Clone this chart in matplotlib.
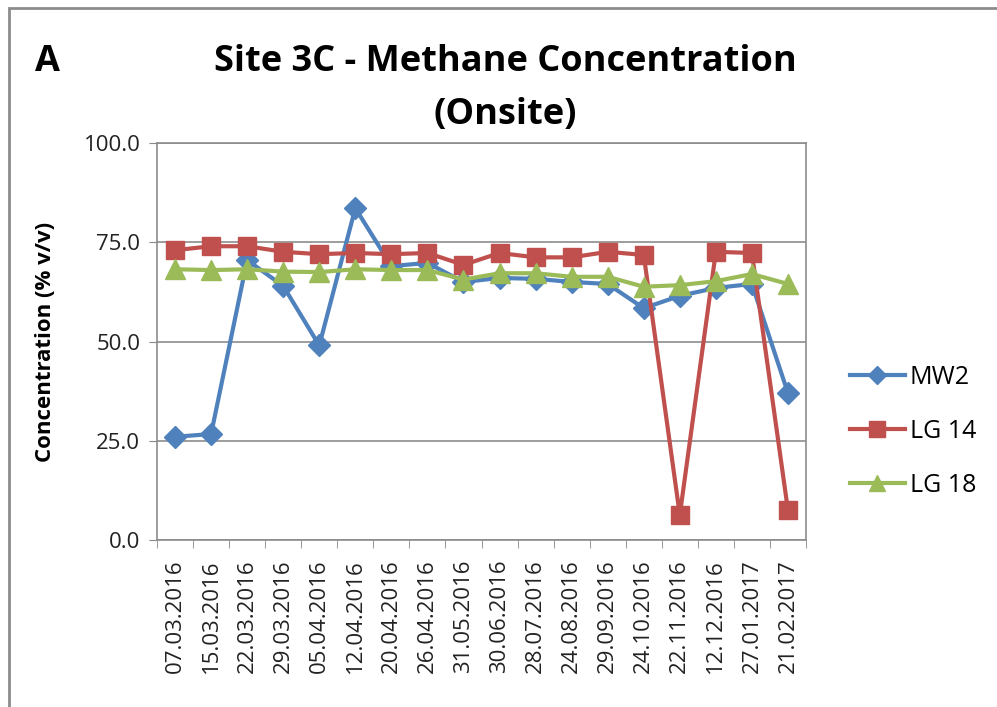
import matplotlib.pyplot as plt
import numpy as np
from matplotlib.patches import Rectangle

dates = ["07.03.2016", "15.03.2016", "22.03.2016", "29.03.2016", "05.04.2016",
         "12.04.2016", "20.04.2016", "26.04.2016", "31.05.2016", "30.06.2016",
         "28.07.2016", "24.08.2016", "29.09.2016", "24.10.2016", "22.11.2016",
         "12.12.2016", "27.01.2017", "21.02.2017"]
mw2 = [26.0, 26.7, 70.5, 64.0, 49.0, 83.6, 69.0, 69.8, 65.0, 66.0,
       65.8, 65.0, 64.5, 58.4, 61.5, 63.5, 64.5, 37.0]
lg14 = [73.0, 74.0, 74.0, 72.6, 72.0, 72.3, 72.0, 72.3, 69.3, 72.3,
        71.2, 71.2, 72.6, 71.8, 6.3, 72.6, 72.3, 7.5]
lg18 = [68.2, 68.0, 68.2, 67.6, 67.5, 68.2, 68.0, 68.0, 65.6, 67.2,
        67.2, 66.3, 66.3, 63.8, 64.2, 65.2, 67.0, 64.5]

plt.rcParams['font.family'] = ['Open Sans', 'DejaVu Sans']

fig = plt.figure(figsize=(9.97, 7.07), dpi=100)
ax = fig.add_axes([0.1575, 0.2362, 0.6509, 0.5615])

x = np.arange(len(dates))
ax.plot(x, mw2, color="#4F81BD", lw=3, marker="D", ms=11, label="MW2")
ax.plot(x, lg14, color="#C0504D", lw=3, marker="s", ms=13, label="LG 14")
ax.plot(x, lg18, color="#9BBB59", lw=3, marker="^", ms=14, label="LG 18")

ax.set_xlim(-0.5, len(dates) - 0.5)
ax.set_ylim(0, 100)
ax.set_yticks([0, 25, 50, 75, 100])
ax.set_yticklabels(["0.0", "25.0", "50.0", "75.0", "100.0"], fontsize=16,
                   color="#222222")
ax.set_xticks(x)
ax.set_xticklabels(dates, rotation=90, fontsize=16, color="#222222")
ax.set_xticks(np.arange(-0.5, len(dates)), minor=True)
ax.tick_params(axis="x", which="major", length=0, pad=14)
ax.tick_params(axis="x", which="minor", length=6, color="#888888")
ax.tick_params(axis="y", length=6, color="#888888", pad=6)
ax.grid(axis="y", color="#8c8c8c", lw=1.2)
ax.set_axisbelow(True)
for s in ax.spines.values():
    s.set_color("#8c8c8c")
    s.set_linewidth(1.2)
ax.set_ylabel("Concentration (% v/v)", fontsize=16, fontweight="bold", labelpad=20)

ax.legend(loc="center left", bbox_to_anchor=(0.84, 0.39),
          bbox_transform=fig.transFigure, frameon=False, fontsize=18,
          labelspacing=1.15, handlelength=2.2, handletextpad=0.2,
          markerscale=0.85, borderpad=0)

fig.text(0.507, 0.912, "Site 3C - Methane Concentration", ha="center",
         va="center", fontsize=26, fontweight="bold")
fig.text(0.507, 0.838, "(Onsite)", ha="center", va="center",
         fontsize=26, fontweight="bold")
fig.text(0.048, 0.912, "A", ha="center", va="center", fontsize=26,
         fontweight="bold")

fig.patches.append(Rectangle((0.009, -0.05), 1.1, 1.038, transform=fig.transFigure,
                             fill=False, edgecolor="#8c8c8c", lw=2))

fig.savefig("out.png", dpi=100)
